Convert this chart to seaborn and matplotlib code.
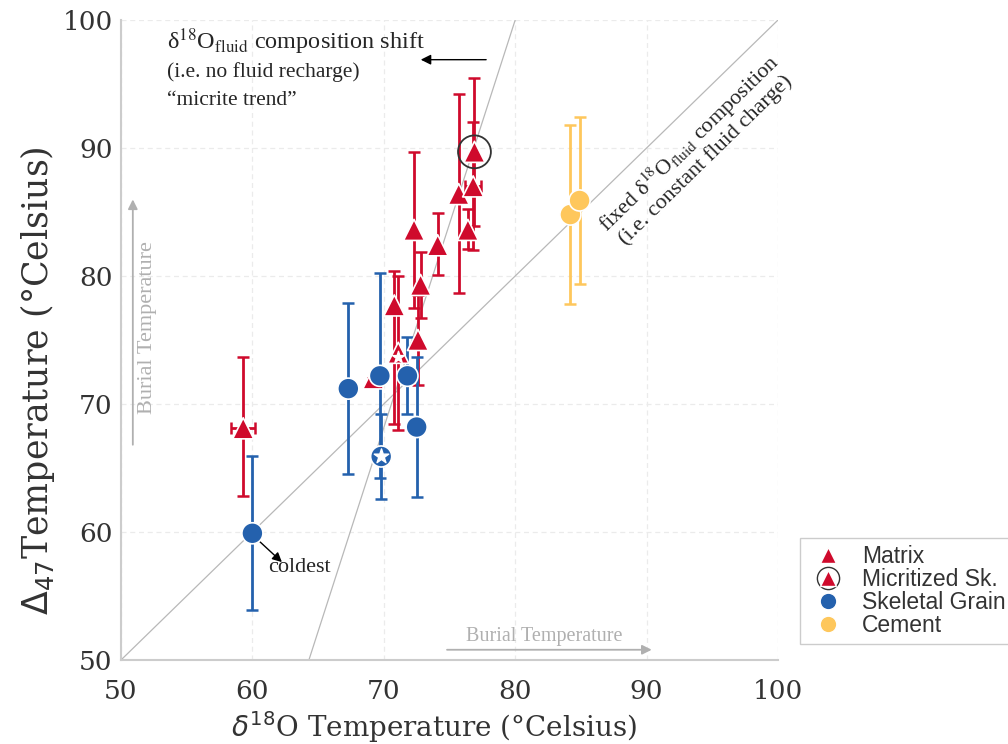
import numpy as np
import pandas as pd
import matplotlib
matplotlib.use("Agg")
import matplotlib.pyplot as plt
import seaborn as sns
from matplotlib.lines import Line2D

# ---------------- data ----------------
matrix_x = [59.3, 69.2, 70.8, 72.6, 72.8, 72.3, 74.1, 75.7, 76.4, 76.8]
matrix_y = [68.1, 72.0, 77.7, 75.0, 79.3, 83.6, 82.4, 86.4, 83.6, 87.0]
matrix_ylo = [5.3, 0.0, 9.3, 3.5, 2.6, 6.1, 2.3, 7.7, 1.5, 5.0]
matrix_yhi = [5.6, 0.0, 2.7, 3.5, 2.6, 6.1, 2.5, 7.8, 1.6, 5.0]
matrix_xerr = [0.9, 0, 0, 0, 0, 0, 0, 0, 0, 0.6]

star_tri_x = [71.1]
star_tri_y = [74.0]
star_tri_yerr = [6.0]

micr_x = [76.9]
micr_y = [89.7]
micr_yerr = [5.8]

skel_x = [60.0, 67.3, 69.7, 71.8, 72.5]
skel_y = [59.9, 71.2, 72.2, 72.2, 68.2]
skel_yerr = [6.0, 6.7, 8.0, 3.0, 5.5]

star_circ_x = [69.8]
star_circ_y = [65.9]
star_circ_yerr = [3.3]

cem_x = [84.2, 84.9]
cem_y = [84.8, 85.9]
cem_yerr = [7.0, 6.5]

categories = ["Matrix", "Micritized Sk.", "Skeletal Grain", "Cement"]

RED = "#cf0a2c"
BLUE = "#2461ad"
YEL = "#fec75c"
LINE = "#b8b8b8"

sns.set_theme(style="whitegrid")
plt.rcParams["font.family"] = ["DejaVu Serif"]

fig = plt.figure(figsize=(10.08, 7.44), dpi=100)
ax = fig.add_axes([121/1008, 84/744, (778-121)/1008, (660-20)/744])

ax.set_xlim(50, 100)
ax.set_ylim(50, 100)
ax.set_xticks([50, 60, 70, 80, 90, 100])
ax.set_yticks([50, 60, 70, 80, 90, 100])
ax.grid(True, color="#ebebeb", linestyle=(0, (4, 3)), linewidth=0.9)
for s in ["top", "right"]:
    ax.spines[s].set_visible(False)
for s in ["left", "bottom"]:
    ax.spines[s].set_color("#cccccc")
    ax.spines[s].set_linewidth(1.5)
ax.tick_params(axis="both", labelsize=19, colors="#333333", length=0)
ax.tick_params(axis="x", pad=14)
ax.tick_params(axis="y", pad=6)

# trend lines
ax.plot([50, 100], [50, 100], color=LINE, lw=0.9, zorder=1)
ax.plot([64.3, 80.0], [50, 100], color=LINE, lw=0.9, zorder=1)

# error bars
ekw = dict(fmt="none", elinewidth=2.0, capsize=4.5, capthick=1.8, zorder=2)
ax.errorbar(matrix_x, matrix_y, yerr=[matrix_ylo, matrix_yhi], xerr=matrix_xerr, ecolor=RED, **ekw)
ax.errorbar(star_tri_x, star_tri_y, yerr=star_tri_yerr, ecolor=RED, **ekw)
ax.errorbar(micr_x, micr_y, yerr=micr_yerr, ecolor=RED, **ekw)
ax.errorbar(skel_x, skel_y, yerr=skel_yerr, ecolor=BLUE, **ekw)
ax.errorbar(star_circ_x, star_circ_y, yerr=star_circ_yerr, ecolor=BLUE, **ekw)
ax.errorbar(cem_x, cem_y, yerr=cem_yerr, ecolor=YEL, **ekw)

df = pd.concat([
    pd.DataFrame({"x": matrix_x + star_tri_x, "y": matrix_y + star_tri_y, "cat": "Matrix"}),
    pd.DataFrame({"x": micr_x, "y": micr_y, "cat": "Micritized Sk."}),
    pd.DataFrame({"x": skel_x + star_circ_x, "y": skel_y + star_circ_y, "cat": "Skeletal Grain"}),
    pd.DataFrame({"x": cem_x, "y": cem_y, "cat": "Cement"}),
])
sns.scatterplot(data=df, x="x", y="y", hue="cat", style="cat",
                hue_order=categories, style_order=categories,
                palette={"Matrix": RED, "Micritized Sk.": RED, "Skeletal Grain": BLUE, "Cement": YEL},
                markers={"Matrix": "^", "Micritized Sk.": "^", "Skeletal Grain": "o", "Cement": "o"},
                s=230, edgecolor="white", linewidth=1.2, legend=False, ax=ax, zorder=4)
# circle around micritized skeletal grain
ax.scatter(micr_x, micr_y, s=560, facecolor="none", edgecolor="#333333", linewidth=1.3, zorder=5)
# star symbols
ax.scatter(star_tri_x, [v - 0.3 for v in star_tri_y], marker="*", s=80, color="white", zorder=6)
ax.scatter(star_circ_x, star_circ_y, marker="*", s=120, color="white", zorder=6)

ax.set_xlabel(r"$\delta^{18}$O Temperature (°Celsius)", fontsize=20, color="#333333")
ax.set_ylabel(r"$\Delta_{47}$Temperature (°Celsius)", fontsize=25, color="#333333")
ax.xaxis.set_label_coords(0.476, -0.076)
ax.yaxis.set_label_coords(-0.098, 0.436)

# annotations
tfont = ["Liberation Serif", "DejaVu Serif"]
ax.text(53.5, 98.3, r"δ$^{18}$O$_{\mathrm{fluid}}$ composition shift", fontsize=17.5,
        family=tfont, math_fontfamily="stix", va="center", ha="left")
ax.text(53.5, 95.9, "(i.e. no fluid recharge)", fontsize=15.5, family=tfont, va="center", ha="left")
ax.text(53.5, 93.7, "\u201cmicrite trend\u201d", fontsize=15.5, family=tfont, va="center", ha="left")
ax.annotate("", xy=(72.6, 96.9), xytext=(78.0, 96.9),
            arrowprops=dict(arrowstyle="-|>", color="black", lw=1.0, mutation_scale=15))

ax.text(93.8, 89.8, r"fixed δ$^{18}$O$_{\mathrm{fluid}}$ composition" + "\n(i.e. constant fluid charge)",
        fontsize=16, family=tfont, math_fontfamily="stix", rotation=44.3, rotation_mode="anchor",
        ha="center", va="center", linespacing=1.0, multialignment="center")

ax.annotate("", xy=(62.4, 57.5), xytext=(60.4, 59.4),
            arrowprops=dict(arrowstyle="-|>", color="black", lw=1.0, mutation_scale=14))
ax.text(61.2, 57.2, "coldest", fontsize=16, family=tfont, va="center", ha="left")

GR = "#b0b0b0"
ax.annotate("", xy=(90.6, 50.8), xytext=(74.6, 50.8),
            arrowprops=dict(arrowstyle="-|>", color=GR, lw=1.3, mutation_scale=14))
ax.text(82.2, 51.8, "Burial Temperature", fontsize=14.5, family=tfont, color=GR, ha="center", va="center")
ax.annotate("", xy=(50.9, 86.2), xytext=(50.9, 66.6),
            arrowprops=dict(arrowstyle="-|>", color=GR, lw=1.3, mutation_scale=14))
ax.text(52.0, 76.0, "Burial Temperature", fontsize=16, family=tfont, color=GR, ha="center", va="center", rotation=90)

# legend (outside, lower right of figure)
h_mat = Line2D([], [], marker="^", color="none", markerfacecolor=RED, markeredgecolor="white", markersize=12)
h_mic_c = Line2D([], [], marker="o", color="none", markerfacecolor="white", markeredgecolor="#333333", markersize=16)
h_mic_t = Line2D([], [], marker="^", color="none", markerfacecolor=RED, markeredgecolor="white", markersize=11)
h_sk = Line2D([], [], marker="o", color="none", markerfacecolor=BLUE, markeredgecolor="white", markersize=12)
h_ce = Line2D([], [], marker="o", color="none", markerfacecolor=YEL, markeredgecolor="white", markersize=12)
leg = fig.legend([h_mat, (h_mic_c, h_mic_t), h_sk, h_ce], categories,
                 loc="upper left", bbox_to_anchor=(800/1008, 1 - 538/744), borderaxespad=0,
                 prop={"family": ["Liberation Sans", "DejaVu Sans"], "size": 16.5},
                 frameon=True, fancybox=False, edgecolor="#cccccc", framealpha=1,
                 handletextpad=0.6, labelspacing=0.0, borderpad=0.3, handlelength=1.8)
for t in leg.get_texts():
    t.set_color("#333333")

fig.savefig("out.png", dpi=100)
